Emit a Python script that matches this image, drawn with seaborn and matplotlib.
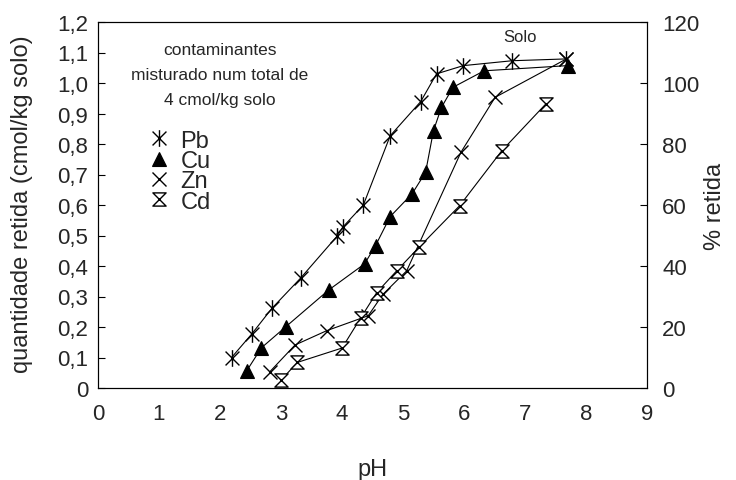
import matplotlib
matplotlib.use("Agg")
import matplotlib.pyplot as plt
import seaborn as sns
import pandas as pd
from matplotlib.path import Path
from matplotlib.lines import Line2D

sns.set_theme(style="white")
plt.rcParams['font.family'] = ['Liberation Sans', 'DejaVu Sans']

pb_ph = [2.19, 2.52, 2.85, 3.32, 3.92, 4.01, 4.35, 4.79, 5.29, 5.55, 5.99, 6.79, 7.68]
pb_q = [0.100, 0.177, 0.261, 0.360, 0.498, 0.527, 0.600, 0.827, 0.939, 1.030, 1.057, 1.073, 1.079]

cu_ph = [2.44, 2.68, 3.08, 3.78, 4.37, 4.55, 4.79, 5.15, 5.37, 5.50, 5.63, 5.82, 6.33, 7.70]
cu_q = [0.057, 0.132, 0.201, 0.321, 0.407, 0.467, 0.562, 0.637, 0.707, 0.844, 0.920, 0.986, 1.040, 1.057]

zn_ph = [2.82, 3.23, 3.75, 4.43, 4.67, 5.06, 5.95, 6.51, 7.68]
zn_q = [0.054, 0.141, 0.188, 0.237, 0.307, 0.384, 0.773, 0.953, 1.079]

cd_ph = [3.00, 3.27, 4.00, 4.31, 4.57, 4.90, 5.26, 5.93, 6.62, 7.34]
cd_q = [0.026, 0.084, 0.131, 0.231, 0.313, 0.385, 0.461, 0.598, 0.778, 0.931]

series_names = ["Pb", "Cu", "Zn", "Cd"]
y_ticks = [0, 0.1, 0.2, 0.3, 0.4, 0.5, 0.6, 0.7, 0.8, 0.9, 1.0, 1.1, 1.2]
y_labels = ["0", "0,1", "0,2", "0,3", "0,4", "0,5", "0,6", "0,7", "0,8", "0,9", "1,0", "1,1", "1,2"]
x_ticks = list(range(0, 10))
y2_ticks = [0, 20, 40, 60, 80, 100, 120]
note_lines = ["contaminantes", "misturado num total de", "4 cmol/kg solo"]

star = Path([(-1, -1), (1, 1), (-1, 1), (1, -1), (0, -1.2), (0, 1.2)],
            [Path.MOVETO, Path.LINETO, Path.MOVETO, Path.LINETO, Path.MOVETO, Path.LINETO])
hourglass = Path([(-1, 1), (1, 1), (-1, -1), (1, -1), (-1, 1)],
                 [Path.MOVETO, Path.LINETO, Path.LINETO, Path.LINETO, Path.CLOSEPOLY])

styles = {
    "Pb": dict(marker=star, markersize=12, markerfacecolor="black", markeredgecolor="black", markeredgewidth=1.0),
    "Cu": dict(marker="^", markersize=10.5, markerfacecolor="black", markeredgecolor="black", markeredgewidth=0.8),
    "Zn": dict(marker="x", markersize=10.5, markerfacecolor="black", markeredgecolor="black", markeredgewidth=1.0),
    "Cd": dict(marker=hourglass, markersize=9.5, markerfacecolor="white", markeredgecolor="black", markeredgewidth=1.0),
}
data = {"Pb": (pb_ph, pb_q), "Cu": (cu_ph, cu_q), "Zn": (zn_ph, zn_q), "Cd": (cd_ph, cd_q)}

TICK_FS = 16
LABEL_FS = 17

fig = plt.figure(figsize=(7.36, 4.81), dpi=100)
ax = fig.add_axes([98/736, 1-389/481, (647-98)/736, (389-23)/481])

for name in series_names:
    xs, ys = data[name]
    df = pd.DataFrame({"pH": xs, "q": ys})
    sns.lineplot(data=df, x="pH", y="q", ax=ax, color="black", linewidth=0.8,
                 estimator=None, sort=False, **styles[name])

ax.set_xlim(0, 9)
ax.set_ylim(0, 1.2)
ax.set_xticks(x_ticks)
ax.set_xticklabels([str(t) for t in x_ticks], fontsize=TICK_FS)
ax.set_yticks(y_ticks)
ax.set_yticklabels(y_labels, fontsize=TICK_FS)
ax.tick_params(axis="both", direction="in", length=5, width=0.8, color="black", pad=7)
ax.tick_params(axis="x", pad=11)
ax.set_xlabel("pH", fontsize=LABEL_FS)
ax.xaxis.set_label_coords(0.5, -(470 - 389) / 366, transform=ax.transAxes)
ax.xaxis.label.set_verticalalignment("center")
ax.set_ylabel("quantidade retida (cmol/kg solo)", fontsize=LABEL_FS)
ax.yaxis.set_label_coords(-(98 - 22) / 549, 0.505, transform=ax.transAxes)
ax.yaxis.label.set_verticalalignment("center")
for s in ax.spines.values():
    s.set_color("black")
    s.set_linewidth(0.8)

ax2 = ax.twinx()
ax2.set_ylim(0, 120)
ax2.set_yticks(y2_ticks)
ax2.set_yticklabels([str(t) for t in y2_ticks], fontsize=TICK_FS)
ax2.tick_params(axis="y", direction="in", length=5, width=0.8, color="black", pad=11)
ax2.set_ylabel("% retida", fontsize=LABEL_FS)
ax2.yaxis.set_label_coords((715 - 98) / 549, 0.5, transform=ax2.transAxes)
ax2.yaxis.label.set_verticalalignment("center")
for s in ax2.spines.values():
    s.set_color("black")
    s.set_linewidth(0.8)
ax2.grid(False)
ax.grid(False)

for i, t in enumerate(note_lines):
    ax.text(2.0, 1.111 - i * 0.082, t, fontsize=12.5, ha="center", va="center")
ax.text(6.92, 1.151, "Solo", fontsize=12, ha="center", va="center")

handles = [Line2D([], [], linestyle="none", color="black", **styles[n]) for n in series_names]
leg = ax.legend(handles, series_names, loc="upper left", bbox_to_anchor=(0.09, 0.706),
                frameon=False, fontsize=17, handlelength=1.0, handletextpad=0.4,
                labelspacing=-0.07, borderaxespad=0, borderpad=0)

fig.savefig("out.png", dpi=100)
